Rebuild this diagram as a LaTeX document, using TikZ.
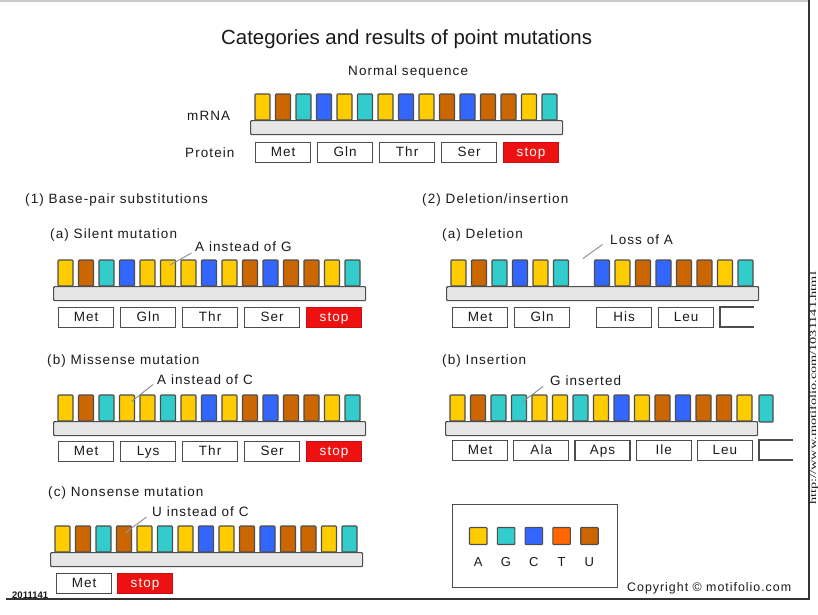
\documentclass[tikz,border=0pt]{standalone}
\usepackage{fontspec}
\setmainfont{Liberation Sans}
\newfontfamily\labfont[LetterSpace=8]{Liberation Sans}
\newfontfamily\urlfont{Liberation Serif}
\definecolor{colA}{HTML}{FFCC00}
\definecolor{colG}{HTML}{33CCCC}
\definecolor{colC}{HTML}{3366FF}
\definecolor{colT}{HTML}{FF6600}
\definecolor{colU}{HTML}{CC6600}
\definecolor{stopred}{HTML}{EE1111}
\definecolor{basedraw}{HTML}{4D4D4D}
\definecolor{barfill}{HTML}{E6E6E6}
\definecolor{txt}{HTML}{1A1A1A}
\tikzset{
  basest/.style={draw=basedraw, line width=1.1, rounded corners=0.8},
  nA/.style={fill=colA}, nG/.style={fill=colG}, nC/.style={fill=colC},
  nT/.style={fill=colT}, nU/.style={fill=colU}, nX/.style={draw=none, fill=none},
  barst/.style={draw=basedraw, fill=barfill, line width=1.2, rounded corners=1,
    minimum width=312, minimum height=14, inner sep=0, anchor=north west},
  pbox/.style={draw=basedraw, fill=white, line width=1.2, minimum width=55,
    minimum height=20, inner sep=0, anchor=north west, text=txt,
    text height=9.8, text depth=2.8,
    font=\labfont\fontsize{13.5}{14}\selectfont},
  stopbox/.style={pbox, fill=stopred, draw=stopred!85!black, text=white},
  lab/.style={anchor=base west, inner sep=0, text=txt,
    font=\labfont\fontsize{13.5}{15}\selectfont},
  leader/.style={draw=gray!85, line width=1},
  frame/.style={draw=black!80, line width=1.4},
}
\newcommand\mrna[4]{%
  \foreach \c [count=\i from 0] in {#4} {
    \path[basest, \c] ({#2+5+\i*20.5}, #3) rectangle ++(15, 26);
  }
  \node[barst] (#1bar) at (#2, #3+26) {};
}
\begin{document}
\begin{tikzpicture}[x=1pt, y=-1pt]
\useasboundingbox[fill=white] (0,0) rectangle (818,614);

% frame
\draw[draw=black!20, line width=2] (0,1) -- (809,1);
\draw[frame] (809,0) -- (809,599) -- (6,599);
\node[rotate=90, anchor=base west, inner sep=0, text=txt,
  font=\urlfont\fontsize{9.3}{10}\selectfont] (url) at (816.2,505)
  {\scalebox{1.54}[1]{http://www.motifolio.com/1031141.html}};
\node[anchor=base west, inner sep=0, text=txt,
  font=\bfseries\fontsize{9.5}{10}\selectfont] (code) at (12,598) {2011141};

% title
\node[anchor=base west, inner sep=0, text=txt, font=\fontsize{20.4}{22}\selectfont]
  (title) at (221,44) {Categories and results of point mutations};

% normal sequence
\node[lab] (normal) at (348,75) {Normal sequence};
\node[lab] (mrnalab) at (187,120) {mRNA};
\node[lab] (protlab) at (185,157) {Protein};
\mrna{norm}{250}{94}{nA,nU,nG,nC,nA,nG,nA,nC,nA,nU,nC,nU,nU,nA,nG}
\node[pbox] (n1) at (255,142) {Met};
\node[pbox] (n2) at (317,142) {Gln};
\node[pbox] (n3) at (379,142) {Thr};
\node[pbox] (n4) at (441,142) {Ser};
\node[stopbox] (n5) at (503,142) {stop};

% (1) substitutions
\node[lab] (sec1) at (25,203) {(1) Base-pair substitutions};
\node[lab] (sila) at (50,238) {(a) Silent mutation};
\node[lab] (silnote) at (195,251) {A instead of G};
\mrna{sil}{53}{260}{nA,nU,nG,nC,nA,nA,nA,nC,nA,nU,nC,nU,nU,nA,nG}
\node[pbox] (s1) at (58,307) {Met};
\node[pbox] (s2) at (120,307) {Gln};
\node[pbox] (s3) at (182,307) {Thr};
\node[pbox] (s4) at (244,307) {Ser};
\node[stopbox] (s5) at (306,307) {stop};
\coordinate (sl1) at (170,265);
\coordinate (sl2) at (191.5,253);
\draw[leader] (sl1) -- (sl2);

\node[lab] (misa) at (47,364) {(b) Missense mutation};
\node[lab] (misnote) at (157,384) {A instead of C};
\mrna{mis}{53}{395}{nA,nU,nG,nA,nA,nG,nA,nC,nA,nU,nC,nU,nU,nA,nG}
\node[pbox] (m1) at (58,441) {Met};
\node[pbox] (m2) at (120,441) {Lys};
\node[pbox] (m3) at (182,441) {Thr};
\node[pbox] (m4) at (244,441) {Ser};
\node[stopbox] (m5) at (306,441) {stop};
\coordinate (ml1) at (131.5,401.5);
\coordinate (ml2) at (153,384.5);
\draw[leader] (ml1) -- (ml2);

\node[lab] (nona) at (48,496) {(c) Nonsense mutation};
\node[lab] (nonnote) at (152,516) {U instead of C};
\mrna{non}{50}{526}{nA,nU,nG,nU,nA,nG,nA,nC,nA,nU,nC,nU,nU,nA,nG}
\node[pbox] (o1) at (56,573) {Met};
\node[stopbox] (o2) at (117,573) {stop};
\coordinate (nl1) at (125,533);
\coordinate (nl2) at (146.5,517);
\draw[leader] (nl1) -- (nl2);

% (2) deletion / insertion
\node[lab] (sec2) at (422,203) {(2) Deletion/insertion};
\node[lab] (dela) at (442,238) {(a) Deletion};
\node[lab] (delnote) at (610,244) {Loss of A};
\mrna{del}{446}{260}{nA,nU,nG,nC,nA,nG,nX,nC,nA,nU,nC,nU,nU,nA,nG}
\node[pbox] (d1) at (452,307) {Met};
\node[pbox] (d2) at (514,307) {Gln};
\node[pbox] (d3) at (596,307) {His};
\node[pbox] (d4) at (658,307) {Leu};
\draw[draw=basedraw, line width=1.2] (754,307) -- (720,307) -- (720,327) -- (754,327);
\coordinate (dl1) at (583,258.5);
\coordinate (dl2) at (602.5,244.5);
\draw[leader] (dl1) -- (dl2);

\node[lab] (insa) at (442,364) {(b) Insertion};
\node[lab] (insnote) at (550,385) {G inserted};
\mrna{ins}{445}{395}{nA,nU,nG,nG,nA,nA,nG,nA,nC,nA,nU,nC,nU,nU,nA}
\path[basest, nG] (759,395) rectangle ++(14,27);
\node[pbox] (i1) at (452,440) {Met};
\node[pbox] (i2) at (513.2,440) {Ala};
\node[pbox] (i3) at (574.4,440) {Aps};
\node[pbox] (i4) at (635.6,440) {Ile};
\node[pbox] (i5) at (696.8,440) {Leu};
\draw[draw=basedraw, line width=1.2] (793,440) -- (759,440) -- (759,460) -- (793,460);
\coordinate (il1) at (523,401.5);
\coordinate (il2) at (543,386.5);
\draw[leader] (il1) -- (il2);

% legend
\node[draw=basedraw, line width=1.3, minimum width=165, minimum height=83,
  anchor=north west, inner sep=0] (legend) at (452,504) {};
\foreach \c/\l [count=\i from 0] in {nA/A,nG/G,nC/C,nT/T,nU/U} {
  \path[basest, \c] ({469.5+\i*27.8},527.5) rectangle ++(17.5,17);
  \node[anchor=base, inner sep=0, text=txt, font=\labfont\fontsize{13}{14}\selectfont]
    (key\l) at ({478.2+\i*27.8},566) {\l};
}
\node[anchor=base west, inner sep=0, text=txt,
  font=\labfont\fontsize{12.4}{14}\selectfont] (copy) at (627,591)
  {Copyright \textcopyright{} motifolio.com};
\end{tikzpicture}
\end{document}
